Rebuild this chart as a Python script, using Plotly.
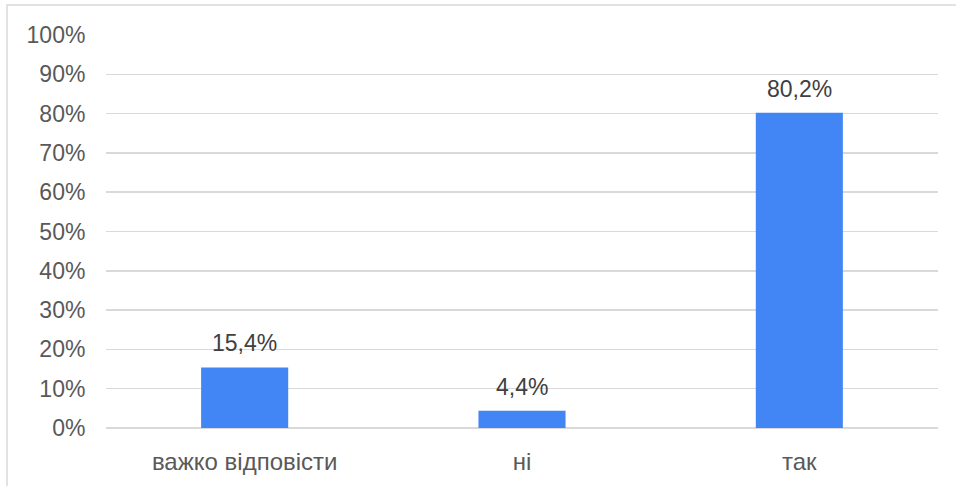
import plotly.graph_objects as go

categories = ["важко відповісти", "ні", "так"]
values = [15.4, 4.4, 80.2]
tick_vals = [0, 10, 20, 30, 40, 50, 60, 70, 80, 90, 100]
tick_text = [f"{v}%" for v in tick_vals]
labels = [f"{v:.1f}%".replace(".", ",") for v in values]

W, H = 956, 486
L, R, T, B = 106, 18, 35, 58
pw, ph = W - L - R, H - T - B
FONT = "Liberation Sans, Arial"

fig = go.Figure(go.Bar(
    x=categories, y=values,
    marker=dict(color="#4285F4", line=dict(width=0)),
    hoverinfo="skip",
))

annotations = [
    dict(x=c, y=v, text=t, xref="x", yref="y", showarrow=False,
         yanchor="bottom", yshift=9,
         font=dict(family=FONT, size=23, color="#404040"))
    for c, v, t in zip(categories, values, labels)
]

fig.update_layout(
    width=W, height=H,
    margin=dict(l=L, r=R, t=T, b=B, pad=0),
    paper_bgcolor="white", plot_bgcolor="white",
    bargap=0.686,
    showlegend=False,
    font=dict(family=FONT, size=23, color="#595959"),
    xaxis=dict(showgrid=False, zeroline=False, showline=False,
               ticks="outside", ticklen=12, tickcolor="rgba(0,0,0,0)",
               tickfont=dict(family=FONT, size=24, color="#595959")),
    yaxis=dict(range=[0, 100], tickmode="array", tickvals=tick_vals,
               ticktext=tick_text,
               showgrid=True, gridcolor="#d9d9d9", gridwidth=1.5,
               zeroline=True, zerolinecolor="#d9d9d9", zerolinewidth=1.5,
               showline=False, ticks="outside", ticklen=15,
               tickcolor="rgba(0,0,0,0)",
               tickfont=dict(family=FONT, size=23, color="#595959")),
    annotations=annotations,
    shapes=[dict(type="rect", xref="paper", yref="paper",
                 x0=(7 - L) / pw, x1=1.3, y0=-0.4, y1=(H - B - 5) / ph,
                 line=dict(color="#d9d9d9", width=1.5), layer="below")],
)

fig.write_html("out.html", config={"displayModeBar": False, "staticPlot": True},
               post_script="document.body.style.margin='0px';document.body.style.overflow='hidden';")
